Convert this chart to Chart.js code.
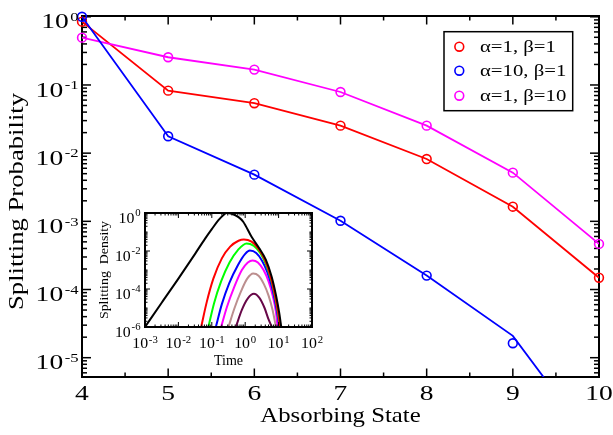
<!DOCTYPE html>
<html>
<head>
<meta charset="utf-8">
<script src="https://cdn.jsdelivr.net/npm/chart.js"></script>
<style>
html,body{margin:0;padding:0;background:#fff;}
#wrap{position:relative;width:613px;height:435px;overflow:hidden;background:#fff;}
#main{position:absolute;left:0;top:0;width:613px;height:435px;}
#inset{position:absolute;left:95px;top:200px;width:230px;height:175px;}
</style>
</head>
<body>
<div id="wrap">
<canvas id="main" width="613" height="435"></canvas>
<canvas id="inset" width="230" height="175"></canvas>
</div>
<script>
// ---------------- main chart data ----------------
const states = [4, 5, 6, 7, 8, 9, 10];
const seriesLabels = ['\u03b1=1, \u03b2=1', '\u03b1=10, \u03b2=1', '\u03b1=1, \u03b2=10'];
const seriesColors = ['#ff0000', '#0000ff', '#ff00ff'];
// simulation (circles)
const simA1B1  = [0.848, 0.0825, 0.054, 0.0253, 0.0082, 0.00164, 1.49e-4];
const simA10B1 = [1.0, 0.0177, 0.00484, 0.00102, 1.6e-4, 1.63e-5, null];
const simA1B10 = [0.494, 0.255, 0.168, 0.0789, 0.0253, 0.00518, 4.67e-4];
// theory (lines)
const thA1B1  = [0.848, 0.0825, 0.054, 0.0253, 0.0082, 0.00164, 1.49e-4];
const thA10B1 = [1.0, 0.0177, 0.00484, 0.00102, 1.6e-4, 2.09e-5, 4.2e-7];
const thA1B10 = [0.494, 0.255, 0.168, 0.0789, 0.0253, 0.00518, 4.67e-4];
// tick labels
const xTickLabels = [4, 5, 6, 7, 8, 9, 10];
const xMinorTicks = [4.5, 5.5, 6.5, 7.5, 8.5, 9.5];
const yTickExps = [0, -1, -2, -3, -4, -5];

// ---------------- inset data ----------------
const inXTickExps = [-3, -2, -1, 0, 1, 2];
const inYTickExps = [0, -2, -4, -6];
const inColors = ['#000000', '#ff0000', '#00ff00', '#0000ff', '#ff00ff', '#bc8f8f', '#670748'];
const tBlack = [0.001, 0.00316, 0.01, 0.0316, 0.0631, 0.1, 0.158, 0.224, 0.282, 0.398, 0.631, 0.871, 1.55, 2.63, 4.17, 6.17, 8.32, 10.5, 12.0];
const dBlack = [1e-6, 1.9e-5, 3.5e-4, 7.1e-3, 0.0447, 0.141, 0.417, 0.794, 1.0, 0.912, 0.603, 0.347, 0.056, 0.0138, 3.4e-3, 4.5e-4, 4.8e-5, 5.2e-6, 1e-6];
const tRed = [0.048, 0.0708, 0.112, 0.2, 0.355, 0.631, 0.912, 1.55, 2.45, 3.89, 5.75, 7.76, 9.77, 11.2];
const dRed = [1e-6, 2.1e-5, 3.6e-4, 4.1e-3, 0.017, 0.0347, 0.0407, 0.0309, 0.0138, 3.4e-3, 4.5e-4, 4.8e-5, 5.2e-6, 1e-6];
const tGreen = [0.079, 0.117, 0.19, 0.339, 0.603, 1.1, 1.78, 2.82, 4.17, 6.03, 7.94, 9.77, 11.0];
const dGreen = [1e-6, 1.8e-5, 2.5e-4, 2.5e-3, 0.0112, 0.0251, 0.019, 7.9e-3, 2.0e-3, 2.8e-4, 3.2e-5, 4.0e-6, 1e-6];
const tBlue = [0.132, 0.2, 0.331, 0.603, 1.0, 1.38, 2.14, 3.16, 4.57, 6.31, 8.13, 9.55, 10.5];
const dBlue = [1e-6, 1.6e-5, 2e-4, 1.8e-3, 7.1e-3, 0.0105, 7.9e-3, 3.2e-3, 7.9e-4, 1.26e-4, 1.6e-5, 3.2e-6, 1e-6];
const tMagenta = [0.19, 0.282, 0.468, 0.794, 1.2, 1.66, 2.4, 3.55, 5.01, 6.76, 8.32, 9.33];
const dMagenta = [1e-6, 1.1e-5, 1.26e-4, 1e-3, 2.5e-3, 3.2e-3, 2.5e-3, 1e-3, 2.5e-4, 4e-5, 6.3e-6, 1e-6];
const tBrown = [0.316, 0.468, 0.759, 1.15, 1.74, 2.51, 3.63, 5.01, 6.61, 8.32];
const dBrown = [1e-6, 8.9e-6, 7.9e-5, 3.5e-4, 6.5e-4, 5e-4, 1.8e-4, 4.5e-5, 7.9e-6, 1e-6];
const tMaroon = [0.525, 0.794, 1.2, 1.82, 2.63, 3.8, 5.01, 6.31];
const dMaroon = [1e-6, 7.9e-6, 3.2e-5, 5.6e-5, 3.5e-5, 1e-5, 2.5e-6, 1e-6];

// ---------------- helpers ----------------
const SERIF = '"Liberation Serif", "Times New Roman", "DejaVu Serif", serif';
function pts(xs, ys) {
  const out = [];
  xs.forEach((x, i) => { if (ys[i] !== null && ys[i] !== undefined) out.push({x: x, y: ys[i]}); });
  return out;
}
function sText(ctx, str, x, y, size, sx, align, rot) {
  ctx.save();
  ctx.translate(x, y);
  if (rot) ctx.rotate(rot);
  ctx.scale(sx, 1);
  ctx.font = size + 'px ' + SERIF;
  ctx.textAlign = align || 'left';
  ctx.textBaseline = 'alphabetic';
  ctx.fillStyle = '#000';
  ctx.fillText(str, 0, 0);
  ctx.restore();
}
function powLabel(ctx, exp, x, y, o) {
  const es = String(exp);
  ctx.save();
  ctx.font = o.base + 'px ' + SERIF;
  const w1 = ctx.measureText('10').width * o.sx;
  ctx.font = o.sup + 'px ' + SERIF;
  const w2 = ctx.measureText(es).width * o.sx;
  ctx.restore();
  const tot = w1 + o.gap + w2;
  const x0 = o.align === 'right' ? x - tot : x - tot / 2;
  sText(ctx, '10', x0, y, o.base, o.sx, 'left');
  sText(ctx, es, x0 + w1 + o.gap, y - o.raise, o.sup, o.sx, 'left');
}
function seg(ctx, x1, y1, x2, y2) {
  ctx.beginPath(); ctx.moveTo(x1, y1); ctx.lineTo(x2, y2); ctx.stroke();
}
function logMinor(minExp, maxExp, skipMajor) {
  const v = [];
  for (let e = minExp; e < maxExp; e++) {
    for (let k = 1; k < 10; k++) {
      if (k === 1 && skipMajor(e)) continue;
      v.push(k * Math.pow(10, e));
    }
  }
  return v;
}

// ---------------- main chart ----------------
const mainDecor = {
  id: 'mainDecor',
  beforeDatasetsDraw(chart) {
    const {ctx, chartArea: a, scales: {x, y}} = chart;
    ctx.save();
    ctx.strokeStyle = '#000';
    ctx.lineWidth = 1.5;
    xTickLabels.forEach(v => {
      const p = x.getPixelForValue(v);
      seg(ctx, p, a.bottom, p, a.bottom - 8.5);
      seg(ctx, p, a.top, p, a.top + 8.5);
    });
    xMinorTicks.forEach(v => {
      const p = x.getPixelForValue(v);
      seg(ctx, p, a.bottom, p, a.bottom - 4.5);
      seg(ctx, p, a.top, p, a.top + 4.5);
    });
    yTickExps.forEach(e => {
      const p = y.getPixelForValue(Math.pow(10, e));
      seg(ctx, a.left, p, a.left + 9, p);
      seg(ctx, a.right, p, a.right - 9, p);
    });
    logMinor(-6, 1, () => true).forEach(v => {
      if (v < y.min || v > y.max) return;
      const p = y.getPixelForValue(v);
      seg(ctx, a.left, p, a.left + 5, p);
      seg(ctx, a.right, p, a.right - 5, p);
    });
    ctx.lineWidth = 2;
    ctx.strokeRect(a.left, a.top, a.right - a.left, a.bottom - a.top);
    ctx.restore();
  },
  afterDraw(chart) {
    const {ctx, chartArea: a, scales: {x, y}} = chart;
    xTickLabels.forEach(v => {
      sText(ctx, String(v), x.getPixelForValue(v), a.bottom + 23, 21.5, 1.28, 'center');
    });
    yTickExps.forEach(e => {
      const p = y.getPixelForValue(Math.pow(10, e));
      powLabel(ctx, e, a.left - 3.5, p + 11.7, {base: 21.5, sup: 13, sx: 1.28, gap: 1.5, raise: 7.4, align: 'right'});
    });
    sText(ctx, 'Absorbing State', (a.left + a.right) / 2, 421.7, 21, 1.18, 'center');
    sText(ctx, 'Splitting Probability', 22.7, (a.top + a.bottom) / 2 + 5, 21, 1.27, 'center', -Math.PI / 2);
    // legend
    ctx.save();
    ctx.fillStyle = '#fff';
    ctx.fillRect(444, 31.7, 128.7, 79);
    ctx.strokeStyle = '#000';
    ctx.lineWidth = 1.5;
    ctx.strokeRect(444, 31.7, 128.7, 79);
    const rowY = [46.7, 70.7, 95.7];
    seriesLabels.forEach((lab, i) => {
      ctx.beginPath();
      ctx.arc(459.3, rowY[i], 4.4, 0, Math.PI * 2);
      ctx.strokeStyle = seriesColors[i];
      ctx.lineWidth = 1.6;
      ctx.stroke();
      sText(ctx, lab, 480, rowY[i] + 5.2, 17, 1.22, 'left');
    });
    ctx.restore();
  }
};

const thSeries = [thA10B1, thA1B10, thA1B1];
const simSeries = [simA10B1, simA1B10, simA1B1];
const orderIdx = [1, 2, 0]; // blue on top, then magenta, then red
const mainDatasets = [];
orderIdx.forEach((ci, k) => {
  mainDatasets.push({
    label: seriesLabels[ci] + ' sim',
    data: pts(states, simSeries[k]),
    showLine: false,
    pointRadius: 4.4,
    pointBorderWidth: 1.6,
    pointBackgroundColor: 'rgba(0,0,0,0)',
    pointBorderColor: seriesColors[ci],
    clip: false
  });
  mainDatasets.push({
    label: seriesLabels[ci],
    data: pts(states, thSeries[k]),
    borderColor: seriesColors[ci],
    borderWidth: 1.8,
    pointRadius: 0,
    fill: false,
    tension: 0
  });
});

new Chart(document.getElementById('main'), {
  type: 'line',
  data: {datasets: mainDatasets},
  options: {
    responsive: false,
    animation: false,
    events: [],
    devicePixelRatio: 1,
    layout: {padding: {left: 82, right: 14, top: 16, bottom: 58}},
    plugins: {legend: {display: false}, tooltip: {enabled: false}, title: {display: false}},
    scales: {
      x: {type: 'linear', min: 4, max: 10, display: false},
      y: {type: 'logarithmic', min: 5.21e-6, max: 1.027, display: false}
    }
  },
  plugins: [mainDecor]
});

// ---------------- inset chart ----------------
const insetDecor = {
  id: 'insetDecor',
  beforeDraw(chart) {
    const {ctx, chartArea: a} = chart;
    ctx.save();
    ctx.fillStyle = '#fff';
    ctx.fillRect(a.left, a.top, a.right - a.left, a.bottom - a.top);
    ctx.restore();
  },
  afterDatasetsDraw(chart) {
    const {ctx, chartArea: a, scales: {x, y}} = chart;
    ctx.save();
    ctx.strokeStyle = '#000';
    ctx.lineWidth = 1;
    inXTickExps.forEach(e => {
      const p = x.getPixelForValue(Math.pow(10, e));
      seg(ctx, p, a.bottom, p, a.bottom - 5);
      seg(ctx, p, a.top, p, a.top + 5);
    });
    logMinor(-3, 2, () => true).forEach(v => {
      const p = x.getPixelForValue(v);
      seg(ctx, p, a.bottom, p, a.bottom - 2.5);
      seg(ctx, p, a.top, p, a.top + 2.5);
    });
    inYTickExps.forEach(e => {
      const p = y.getPixelForValue(Math.pow(10, e));
      seg(ctx, a.left, p, a.left + 5, p);
      seg(ctx, a.right, p, a.right - 5, p);
    });
    logMinor(-6, 0, e => inYTickExps.indexOf(e) >= 0).forEach(v => {
      const p = y.getPixelForValue(v);
      seg(ctx, a.left, p, a.left + 2.5, p);
      seg(ctx, a.right, p, a.right - 2.5, p);
    });
    ctx.lineWidth = 2;
    ctx.strokeRect(a.left, a.top, a.right - a.left, a.bottom - a.top);
    ctx.restore();
    inXTickExps.forEach(e => {
      const p = x.getPixelForValue(Math.pow(10, e));
      powLabel(ctx, e, p, a.bottom + 21.3, {base: 14, sup: 9.5, sx: 1.13, gap: 0.8, raise: 5, align: 'center'});
    });
    inYTickExps.forEach(e => {
      const p = y.getPixelForValue(Math.pow(10, e));
      powLabel(ctx, e, a.left - 4.5, p + 9.7, {base: 14, sup: 9.5, sx: 1.13, gap: 0.8, raise: 6.7, align: 'right'});
    });
    sText(ctx, 'Time', (a.left + a.right) / 2, a.bottom + 38, 14, 1.0, 'center');
    sText(ctx, 'Splitting  Density', 13.3, (a.top + a.bottom) / 2, 13, 1.07, 'center', -Math.PI / 2);
  }
};

const inT = [tBlack, tRed, tGreen, tBlue, tMagenta, tBrown, tMaroon];
const inD = [dBlack, dRed, dGreen, dBlue, dMagenta, dBrown, dMaroon];
const insetDatasets = inT.map((t, i) => ({
  data: pts(t, inD[i]),
  borderColor: inColors[i],
  borderWidth: 2,
  pointRadius: 0,
  fill: false,
  cubicInterpolationMode: 'monotone'
}));

new Chart(document.getElementById('inset'), {
  type: 'line',
  data: {datasets: insetDatasets},
  options: {
    responsive: false,
    animation: false,
    events: [],
    devicePixelRatio: 1,
    layout: {padding: {left: 50, right: 13, top: 13, bottom: 48}},
    plugins: {legend: {display: false}, tooltip: {enabled: false}, title: {display: false}},
    scales: {
      x: {type: 'logarithmic', min: 1e-3, max: 1e2, display: false},
      y: {type: 'logarithmic', min: 1e-6, max: 1, display: false}
    }
  },
  plugins: [insetDecor]
});
</script>
</body>
</html>
